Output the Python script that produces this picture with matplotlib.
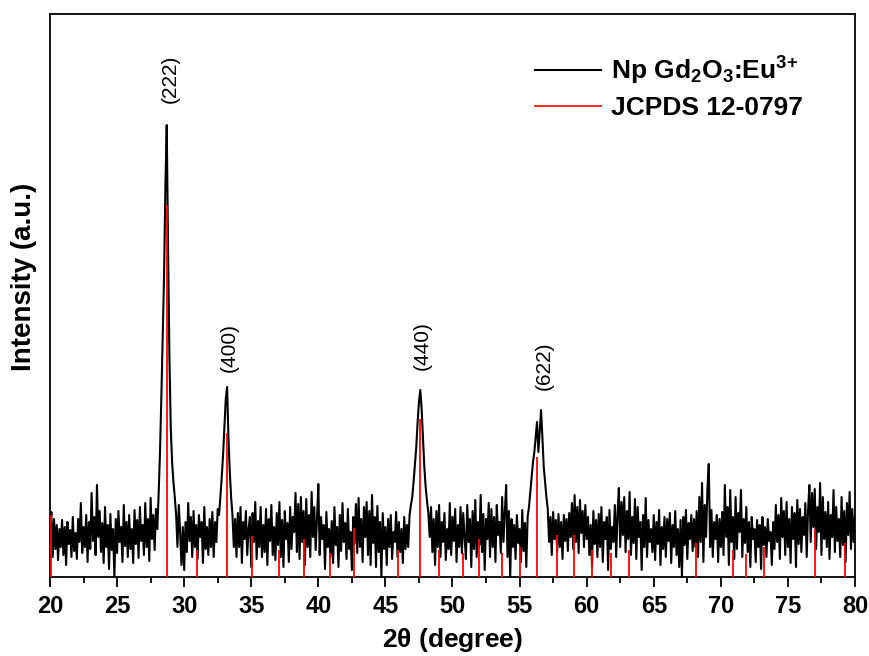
import numpy as np
import matplotlib
matplotlib.use("Agg")
import matplotlib.pyplot as plt

plt.rcParams['font.family'] = ['Liberation Sans', 'DejaVu Sans']
plt.rcParams['mathtext.fontset'] = 'custom'
plt.rcParams['mathtext.rm'] = 'Liberation Sans:bold'
plt.rcParams['mathtext.default'] = 'regular'

# 2-theta grid: 20.0 .. 80.0 step 0.1
theta_start, theta_end, theta_step = 20.0, 80.0, 0.1

# measured intensity (a.u.), one row per degree (x.0 .. x.9)
intensity = [
    45, 65, 20, 58, 28, 52, 17, 48, 30, 57,      # 20
    22, 50, 12, 55, 33, 47, 20, 60, 26, 44,      # 21
    18, 58, 35, 74, 24, 50, 30, 62, 15, 55,      # 22
    28, 84, 36, 60, 22, 92, 40, 66, 25, 54,      # 23
    14, 70, 30, 52, 8, 63, 27, 48, 0, 58,        # 24
    24, 66, 35, 50, 15, 72, 31, 55, 20, 62,      # 25
    28, 48, 14, 67, 33, 57, 19, 70, 36, 52,      # 26
    22, 74, 30, 58, 16, 79, 38, 62, 27, 68,      # 27
    48, 84, 125, 180, 240, 300, 390, 452, 330, 220,  # 28
    150, 115, 95, 80, 62, 30, 72, 45, 12, 50,    # 29
    7, 55, 25, 74, 36, 60, 20, 66, 30, 52,       # 30
    18, 62, 40, 55, 14, 70, 28, 50, 22, 58,      # 31
    30, 65, 20, 55, 35, 68, 62, 80, 100, 122,    # 32
    150, 178, 190, 140, 105, 80, 62, 30, 58, 20, # 33
    64, 30, 70, 14, 55, 38, 66, 22, 48, 60,      # 34
    10, 64, 35, 75, 18, 56, 30, 70, 20, 52,      # 35
    25, 68, 12, 58, 36, 72, 22, 50, 17, 64,      # 36
    32, 75, 20, 57, 10, 66, 38, 54, 15, 70,      # 37
    28, 60, 45, 84, 25, 73, 18, 80, 35, 66,      # 38
    12, 78, 30, 62, 20, 85, 40, 70, 27, 58,      # 39
    93, 22, 60, 38, 52, 8, 65, 30, 48, 20,       # 40
    56, 14, 70, 32, 50, 10, 62, 26, 74, 35,      # 41
    54, 18, 68, 28, 45, 7, 60, 33, 73, 24,       # 42
    79, 30, 58, 15, 70, 40, 75, 22, 66, 12,      # 43
    82, 34, 60, 10, 71, 25, 55, 0, 64, 28,       # 44
    50, 12, 58, 30, 62, 18, 45, 35, 65, 20,      # 45
    55, 25, 48, 14, 60, 28, 52, 30, 62, 72,      # 46
    80, 95, 112, 130, 155, 175, 187, 168, 140, 110,  # 47
    90, 76, 64, 40, 70, 25, 58, 12, 66, 30,      # 48
    72, 20, 55, 35, 64, 17, 48, 28, 74, 22,      # 49
    60, 36, 68, 15, 52, 30, 70, 24, 64, 40,      # 50
    18, 72, 35, 58, 10, 66, 28, 77, 20, 55,      # 51
    32, 82, 25, 63, 7, 58, 38, 74, 20, 68,       # 52
    30, 60, 15, 72, 42, 55, 24, 80, 35, 65,      # 53
    92, 20, 66, 0, 58, 30, 52, 18, 62, 34,       # 54
    48, 15, 67, 26, 54, 10, 60, 70, 85, 100,     # 55
    115, 125, 140, 155, 125, 145, 167, 140, 110, 95,  # 56
    80, 68, 35, 60, 22, 65, 38, 57, 25, 63,      # 57
    30, 55, 18, 62, 36, 58, 26, 64, 40, 74,      # 58
    28, 82, 35, 70, 24, 77, 44, 66, 30, 72,      # 59
    38, 60, 22, 52, 10, 66, 33, 57, 20, 63,      # 60
    30, 70, 15, 55, 38, 60, 7, 67, 28, 50,       # 61
    35, 72, 20, 64, 89, 30, 75, 42, 80, 25,      # 62
    66, 38, 85, 22, 60, 34, 78, 18, 70, 40,      # 63
    55, 7, 62, 30, 79, 20, 57, 35, 48, 25,       # 64
    62, 17, 55, 33, 67, 12, 50, 28, 60, 20,      # 65
    58, 36, 64, 14, 52, 30, 66, 22, 48, 10,      # 66
    57, 0, 60, 32, 67, 18, 54, 38, 62, 26,       # 67
    58, 30, 66, 20, 80, 35, 94, 15, 72, 40,      # 68
    88, 113, 30, 67, 20, 55, 38, 62, 15, 58,     # 69
    30, 65, 22, 92, 40, 70, 12, 87, 35, 60,      # 70
    18, 80, 28, 64, 45, 87, 20, 58, 34, 70,      # 71
    25, 55, 10, 60, 38, 48, 15, 57, 30, 52,      # 72
    8, 60, 32, 50, 20, 58, 36, 45, 12, 55,       # 73
    28, 72, 35, 62, 18, 79, 40, 66, 22, 75,      # 74
    30, 58, 14, 70, 38, 64, 10, 77, 33, 68,      # 75
    25, 60, 42, 74, 20, 66, 92, 35, 84, 50,      # 76
    88, 28, 70, 45, 94, 22, 80, 38, 65, 30,      # 77
    75, 18, 62, 40, 87, 25, 70, 36, 58, 20,      # 78
    80, 32, 66, 15, 74, 42, 85, 28, 68, 35,      # 79
    60,                                          # 80
]

# JCPDS 12-0797 reference lines
ref_pos = [20.08, 28.72, 30.93, 33.22, 35.05, 37.1, 38.95, 40.9, 42.65, 45.95,
           47.6, 49.0, 50.76, 52.0, 53.7, 55.0, 56.27, 57.8, 59.03, 60.4,
           61.79, 63.18, 68.16, 70.9, 71.9, 73.25, 76.99, 79.23]
ref_int = [62, 372, 27, 144, 41, 27, 38, 24, 49, 27,
           158, 27, 24, 38, 24, 30, 120, 42, 42, 27,
           24, 27, 34, 27, 23, 30, 48, 34]

# peak labels
hkl_labels = ['(222)', '(400)', '(440)', '(622)']
hkl_x = [28.95, 33.35, 47.75, 56.85]
hkl_y = [474, 205, 207, 187]

xticks = [20, 25, 30, 35, 40, 45, 50, 55, 60, 65, 70, 75, 80]

two_theta = np.round(np.arange(len(intensity)) * theta_step + theta_start, 2)

fig = plt.figure(figsize=(8.7, 6.56), dpi=100)
ax = fig.add_axes([50/870, 1-577/656, 805/870, 563/656])

ax.plot(two_theta, intensity, color='black', lw=1.5, label=r'Np Gd$_2$O$_3$:Eu$^{\text{3+}}$', zorder=2)
ax.vlines(ref_pos, 0, ref_int, colors='#ff0000', lw=1.3, zorder=3)
ax.plot([], [], color='#ff0000', lw=1.2, label='JCPDS 12-0797')

for t, xx, yy in zip(hkl_labels, hkl_x, hkl_y):
    ax.text(xx, yy, t, rotation=90, ha='center', va='bottom', fontsize=15)

ax.set_xlim(theta_start, theta_end)
ax.set_ylim(0, 563)
ax.set_xticks(xticks)
ax.set_xticks(np.arange(22.5, 80, 5), minor=True)
ax.set_yticks([])
ax.tick_params(axis='x', which='major', direction='out', length=7, width=1.3, labelsize=17, pad=6)
ax.tick_params(axis='x', which='minor', direction='out', length=4, width=1.3)
for lbl in ax.get_xticklabels():
    lbl.set_fontweight('bold')
for s in ax.spines.values():
    s.set_linewidth(1.3)

ax.set_xlabel(r'2$\theta$ (degree)', fontsize=19, fontweight='bold', labelpad=6)
ax.set_ylabel('Intensity (a.u.)', fontsize=20, fontweight='bold')
ax.yaxis.set_label_coords(-0.016, 0.533)

leg = ax.legend(loc='upper right', frameon=False, prop={'size': 19, 'weight': 'bold'},
                handlelength=2.5, handletextpad=0.4, labelspacing=0.35,
                bbox_to_anchor=(0.965, 0.97))

fig.savefig('out.png', dpi=100)
